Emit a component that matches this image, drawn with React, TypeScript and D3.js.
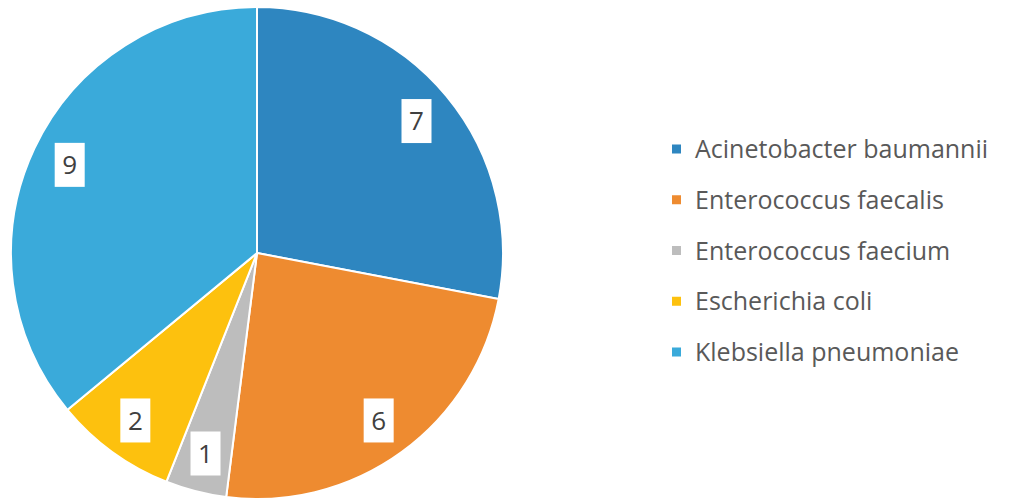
import React from "react";
import * as d3 from "d3";

const categories = [
  "Acinetobacter baumannii",
  "Enterococcus faecalis",
  "Enterococcus faecium",
  "Escherichia coli",
  "Klebsiella pneumoniae",
];
const values = [7, 6, 1, 2, 9];
const colors = ["#2E86C0", "#EE8B30", "#BDBDBD", "#FDC10E", "#3AAADA"];

export default function App() {
  const W = 1014, H = 500;
  const cx = 257, cy = 253, r = 246;
  const pie = d3.pie<number>().sort(null).value((d) => d)(values);
  const arc = d3.arc<d3.PieArcDatum<number>>().innerRadius(0).outerRadius(r);
  const labelArc = d3.arc<d3.PieArcDatum<number>>().innerRadius(207).outerRadius(207);
  const legendY = d3.scalePoint<string>().domain(categories).range([149, 352]);
  return (
    <svg width={W} height={H} style={{ position: "absolute", left: 0, top: 0, background: "#fff" }}
      fontFamily="Open Sans, Calibri, sans-serif">
      <g transform={`translate(${cx},${cy})`}>
        {pie.map((p, i) => (
          <path key={i} d={arc(p) || ""} fill={colors[i]} stroke="#fff" strokeWidth={2} />
        ))}
        {pie.map((p, i) => {
          const [x, y] = labelArc.centroid(p);
          return (
            <g key={"l" + i} transform={`translate(${x},${y})`}>
              <rect x={-15} y={-22} width={30} height={44} fill="#fff" />
              <text textAnchor="middle" dy="0.36em" fontSize={26} fill="#404040">{values[i]}</text>
            </g>
          );
        })}
      </g>
      {categories.map((c, i) => (
        <g key={c} transform={`translate(672,${legendY(c)})`}>
          <rect x={0} y={-4.5} width={9} height={9} fill={colors[i]} />
          <text x={23} dy="0.36em" fontSize={25} fill="#595959">{c}</text>
        </g>
      ))}
    </svg>
  );
}
